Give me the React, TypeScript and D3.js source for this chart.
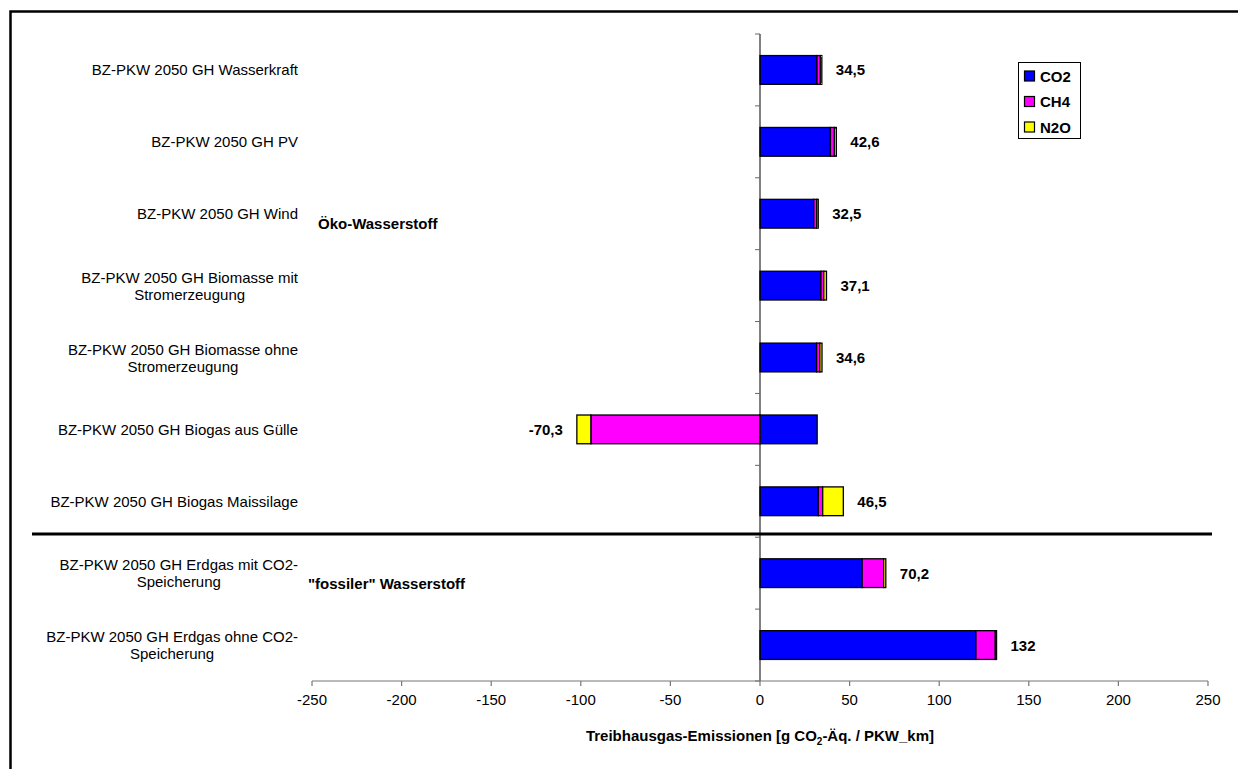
import React, { useEffect, useRef } from "react";
import * as d3 from "d3";

const categoryLines: string[][] = [
  ["BZ-PKW 2050 GH Wasserkraft"],
  ["BZ-PKW 2050 GH PV"],
  ["BZ-PKW 2050 GH Wind"],
  ["BZ-PKW 2050 GH Biomasse mit", "Stromerzeugung"],
  ["BZ-PKW 2050 GH Biomasse ohne", "Stromerzeugung"],
  ["BZ-PKW 2050 GH Biogas aus Gülle"],
  ["BZ-PKW 2050 GH Biogas Maissilage"],
  ["BZ-PKW 2050 GH Erdgas mit CO2-", "Speicherung"],
  ["BZ-PKW 2050 GH Erdgas ohne CO2-", "Speicherung"],
];
const co2 = [31.8, 39.3, 30.0, 34.0, 31.6, 31.9, 32.5, 57.0, 120.5];
const ch4 = [1.9, 2.2, 1.7, 1.6, 1.8, -94.4, 2.5, 12.0, 10.8];
const n2o = [0.8, 1.1, 0.8, 1.5, 1.2, -7.8, 11.5, 1.2, 0.7];
const totals = [34.5, 42.6, 32.5, 37.1, 34.6, -70.3, 46.5, 70.2, 132];
const seriesNames = ["CO2", "CH4", "N2O"];
const seriesColors = ["#0000FF", "#FF00FF", "#FFFF00"];
const xTicks = [-250, -200, -150, -100, -50, 0, 50, 100, 150, 200, 250];
const groupLabels = ["Öko-Wasserstoff", "\"fossiler\" Wasserstoff"];

const W = 1238;
const H = 769;
const FONT = "'Liberation Sans', Arial, sans-serif";

export default function App() {
  const ref = useRef<SVGSVGElement | null>(null);

  useEffect(() => {
    const svg = d3.select(ref.current);
    svg.selectAll("*").remove();

    const ids = categoryLines.map((_, i) => String(i));
    const x = d3.scaleLinear().domain([-250, 250]).range([312, 1208]);
    const y = d3.scaleBand<string>().domain(ids).range([34, 681]).paddingInner(0.6).paddingOuter(0.3);

    const rows = ids.map((id, i) => ({ id, CO2: co2[i], CH4: ch4[i], N2O: n2o[i] }));
    const stack = d3.stack<any>().keys(seriesNames).offset(d3.stackOffsetDiverging);
    const layers = stack(rows);

    // border
    svg.append("path")
      .attr("d", `M10.5,${H} V11.5 H${W}`)
      .attr("fill", "none").attr("stroke", "#000").attr("stroke-width", 2.5);

    // bars
    layers.forEach((layer, si) => {
      svg.append("g").selectAll("rect").data(layer).join("rect")
        .attr("x", (d: any) => x(Math.min(d[0], d[1])))
        .attr("y", (d: any) => y(d.data.id)!)
        .attr("width", (d: any) => Math.abs(x(d[1]) - x(d[0])))
        .attr("height", y.bandwidth())
        .attr("fill", seriesColors[si])
        .attr("stroke", "#000").attr("stroke-width", 1.3);
    });

    // y axis line & ticks
    const step = y.step();
    const y0 = 34;
    svg.append("line").attr("x1", x(0)).attr("x2", x(0)).attr("y1", y0).attr("y2", 681)
      .attr("stroke", "#000").attr("stroke-width", 1);
    d3.range(0, ids.length + 1).forEach((k) => {
      const yy = y0 + k * step;
      svg.append("line").attr("x1", x(0) - 5).attr("x2", x(0)).attr("y1", yy).attr("y2", yy)
        .attr("stroke", "#666").attr("stroke-width", 1);
    });

    // x axis
    const xa = svg.append("g").attr("transform", "translate(0,681)");
    xa.append("line").attr("x1", x(-250)).attr("x2", x(250)).attr("stroke", "#777").attr("stroke-width", 1.2);
    xTicks.forEach((t) => {
      xa.append("line").attr("x1", x(t)).attr("x2", x(t)).attr("y1", 0).attr("y2", 5)
        .attr("stroke", "#777").attr("stroke-width", 1.2);
      xa.append("text").attr("x", x(t)).attr("y", 24).attr("text-anchor", "middle")
        .attr("font-family", FONT).attr("font-size", 15).attr("fill", "#000").text(String(t));
    });

    // axis title
    const title = svg.append("text").attr("x", x(0)).attr("y", 741).attr("text-anchor", "middle")
      .attr("font-family", FONT).attr("font-size", 15).attr("font-weight", "bold");
    title.append("tspan").text("Treibhausgas-Emissionen [g CO");
    title.append("tspan").attr("font-size", 10).attr("dy", 4).text("2");
    title.append("tspan").attr("dy", -4).text("-Äq. / PKW_km]");

    // category labels
    const R = 298;
    categoryLines.forEach((lines, i) => {
      const cy = y(String(i))! + y.bandwidth() / 2;
      const g = svg.append("g");
      const texts = lines.map((ln, j) =>
        g.append("text").attr("font-family", FONT).attr("font-size", 15)
          .attr("y", cy + (j - (lines.length - 1) / 2) * 17)
          .attr("dominant-baseline", "central").attr("text-anchor", "middle").text(ln)
      );
      const widths = texts.map((t) => (t.node() as SVGTextElement).getComputedTextLength());
      const maxW = d3.max(widths) || 0;
      texts.forEach((t) => t.attr("x", R - maxW / 2));
    });

    // value labels
    const fmt = d3.formatLocale({ decimal: ",", thousands: ".", grouping: [3], currency: ["", "€"], minus: "-" }).format(".1~f");
    totals.forEach((tot, i) => {
      const r = rows[i];
      const pos = [r.CO2, r.CH4, r.N2O].filter((v) => v > 0).reduce((a, b) => a + b, 0);
      const neg = [r.CO2, r.CH4, r.N2O].filter((v) => v < 0).reduce((a, b) => a + b, 0);
      const cy = y(String(i))! + y.bandwidth() / 2;
      const t = svg.append("text").attr("font-family", FONT).attr("font-size", 15).attr("font-weight", "bold")
        .attr("y", cy).attr("dominant-baseline", "central").text(fmt(tot));
      if (tot >= 0) t.attr("x", x(pos) + 14).attr("text-anchor", "start");
      else t.attr("x", x(neg) - 14).attr("text-anchor", "end");
    });

    // separator
    svg.append("line").attr("x1", 32).attr("x2", 1212).attr("y1", 534).attr("y2", 534)
      .attr("stroke", "#000").attr("stroke-width", 3);

    // group labels
    svg.append("text").attr("x", 318).attr("y", 223).attr("dominant-baseline", "central")
      .attr("font-family", FONT).attr("font-size", 15).attr("font-weight", "bold").text(groupLabels[0]);
    svg.append("text").attr("x", 308).attr("y", 583).attr("dominant-baseline", "central")
      .attr("font-family", FONT).attr("font-size", 15).attr("font-weight", "bold").text(groupLabels[1]);

    // legend
    const lg = svg.append("g").attr("transform", "translate(1018,62)");
    lg.append("rect").attr("x", 0.5).attr("y", 0.5).attr("width", 62).attr("height", 76)
      .attr("fill", "#fff").attr("stroke", "#000").attr("stroke-width", 1);
    seriesNames.forEach((s, i) => {
      const yy = 14 + i * 25.5;
      lg.append("rect").attr("x", 6.5).attr("y", yy - 5).attr("width", 10).attr("height", 10)
        .attr("fill", seriesColors[i]).attr("stroke", "#000").attr("stroke-width", 1.2);
      lg.append("text").attr("x", 22).attr("y", yy).attr("dominant-baseline", "central")
        .attr("font-family", FONT).attr("font-size", 15).attr("font-weight", "bold").text(s);
    });
  }, []);

  return (
    <svg ref={ref} width={W} height={H} style={{ position: "absolute", left: 0, top: 0, background: "#fff" }} />
  );
}
